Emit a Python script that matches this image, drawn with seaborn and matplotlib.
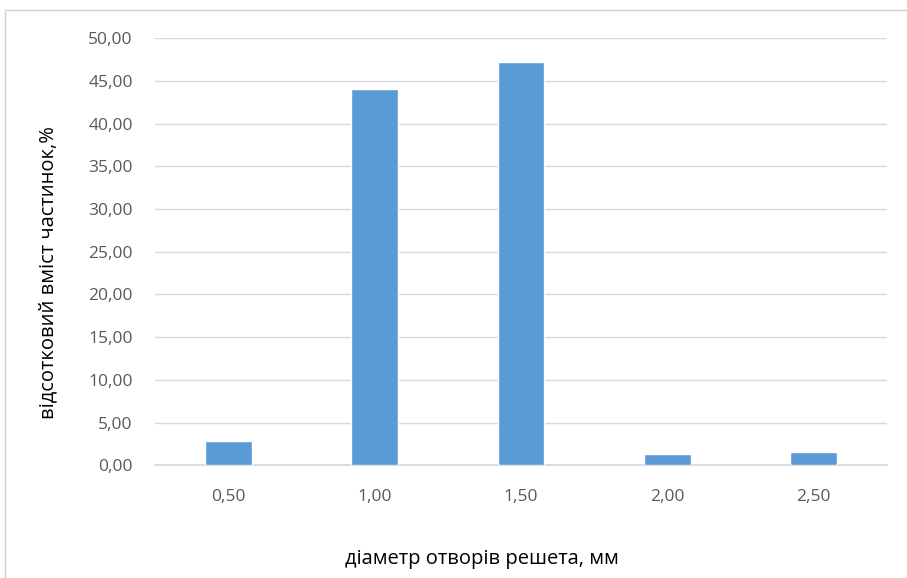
import numpy as np
import pandas as pd
import seaborn as sns
import matplotlib.pyplot as plt
from matplotlib.ticker import FuncFormatter
from matplotlib.patches import Rectangle

diameters = ["0,50", "1,00", "1,50", "2,00", "2,50"]
content = [2.8, 44.1, 47.25, 1.35, 1.55]

df = pd.DataFrame({"diameter": diameters, "content": content})

sns.set_theme(style="white")
plt.rcParams['font.family'] = ['Open Sans', 'DejaVu Sans']

fig = plt.figure(figsize=(9.07, 5.78), dpi=100)
ax = fig.add_axes([0.171, 0.195, 0.807, 0.739])

sns.barplot(data=df, x="diameter", y="content", color="#5B9BD5",
            saturation=1, width=0.32, ax=ax, zorder=3)

ax.set_ylim(0, 50)
ax.set_yticks(np.arange(0, 51, 5))
ax.yaxis.set_major_formatter(FuncFormatter(lambda v, p: f"{v:.2f}".replace(".", ",")))
ax.grid(axis="y", color="#D9D9D9", linewidth=1, zorder=0)
for s in ["top", "right", "left"]:
    ax.spines[s].set_visible(False)
ax.spines["bottom"].set_color("#D9D9D9")
ax.tick_params(axis="y", length=0, labelsize=12.5, colors="#595959", pad=16)
ax.tick_params(axis="x", length=0, labelsize=12.5, colors="#595959", pad=17)

ax.set_xlabel("діаметр отворів решета, мм", fontsize=14.5, color="black")
ax.set_ylabel("відсотковий вміст частинок,%", fontsize=14.5, color="black")
ax.xaxis.set_label_coords(0.447, -0.195)
ax.yaxis.set_label_coords(-0.132, 0.452)

# outer chart frame
fig.patches.append(Rectangle((0.006, -0.1), 1.2, 1.083, transform=fig.transFigure,
                             fill=False, edgecolor="#D0D0D0", linewidth=1))

fig.savefig("out.png", dpi=100)
